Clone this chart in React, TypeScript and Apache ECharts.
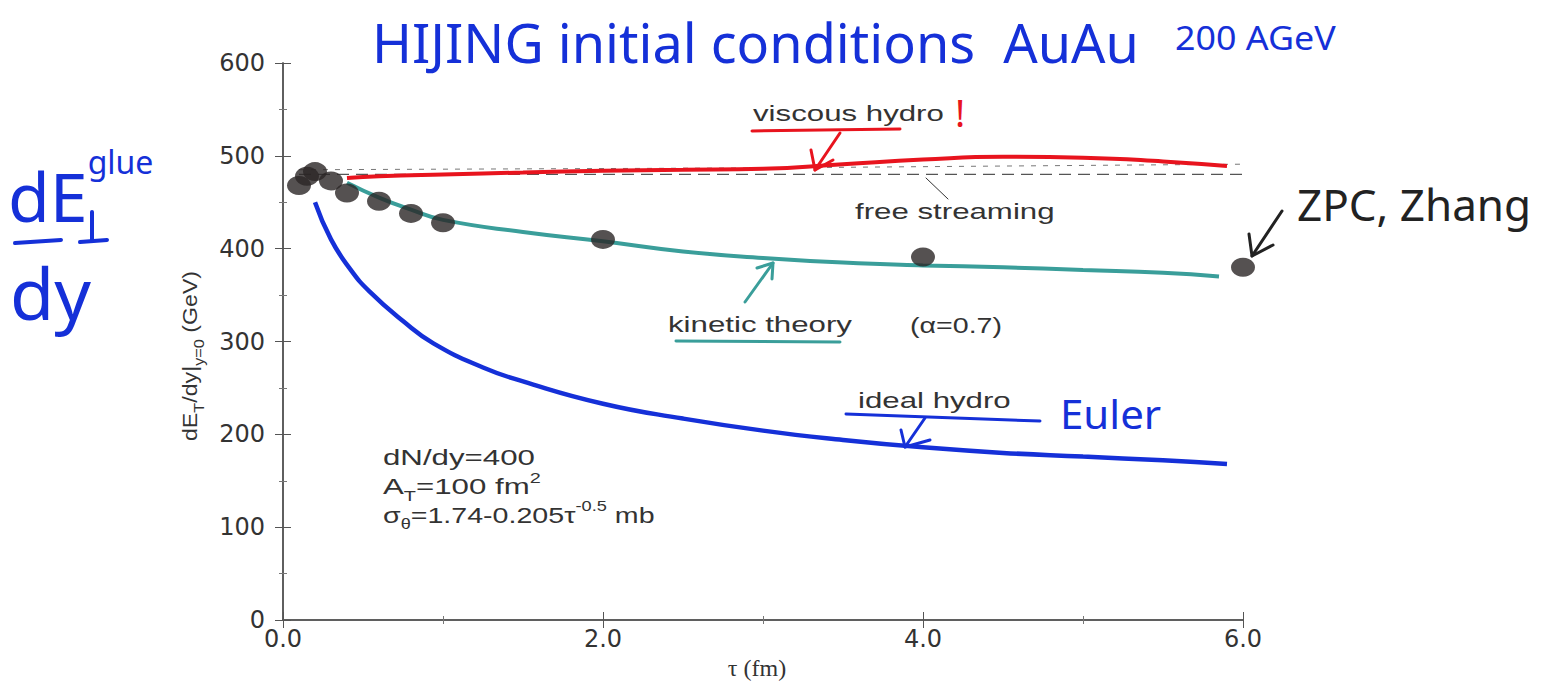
import React, { useEffect, useRef } from "react";
import * as echarts from "echarts";

// ---- data ----
const zpcTau = [0.1, 0.15, 0.2, 0.3, 0.4, 0.6, 0.8, 1.0, 2.0, 4.0, 6.0];
const zpcEt = [468, 478, 483, 473, 460, 451, 438, 428, 410, 391, 380];

const kinTau = [0.4, 0.6, 0.8, 1.0, 1.5, 2.0, 2.5, 3.0, 3.5, 4.0, 4.5, 5.0, 5.5, 5.85];
const kinEt = [471, 455, 442, 431, 418, 408, 397, 390, 385, 382, 380, 377, 374, 370];

const viscTau = [0.4, 0.6, 1.0, 1.5, 2.0, 2.5, 3.0, 3.5, 4.0, 4.5, 5.0, 5.5, 5.9];
const viscEt = [476, 478, 480, 482, 484, 485, 486, 491, 496, 499, 498, 494, 489];

const idealTau = [0.2, 0.3, 0.42, 0.54, 0.75, 0.94, 1.25, 1.5, 2.0, 2.5, 3.0, 3.5, 4.0, 4.5, 5.0, 5.5, 5.9];
const idealEt = [450, 410, 378, 354, 322, 298, 272, 257, 233, 217, 204, 194, 186, 180, 176, 172, 168];

const freeTau = [0.1, 6.0];
const freeEt = [480, 480];

const thinTau = [0.1, 3.0, 6.0];
const thinEt = [485, 487, 491];

const xTicks = { min: 0, max: 6, interval: 2 };
const yTicks = { min: 0, max: 600, interval: 100 };

const zip = (a: number[], b: number[]) => a.map((v, i) => [v, b[i]]);

const SANS = "Liberation Sans";
const HAND = "Noto Sans";
const BLUE = "#1530d8";
const RED = "#e8141e";
const TEAL = "#3a9e9a";
const INK = "#333";
const STRETCH = 1.42;

function line(points: number[][], stroke: string, lineWidth = 3) {
  return {
    type: "polyline",
    shape: { points },
    style: { stroke, lineWidth, fill: null, lineCap: "round", lineJoin: "round" },
    z: 100,
  };
}
function txt(
  text: string,
  x: number,
  y: number,
  fontSize: number,
  fill: string,
  fontFamily = SANS,
  scaleX = 1,
  extra: any = {}
) {
  return {
    type: "text",
    x,
    y,
    scaleX,
    z: 100,
    style: { text, fontSize, fill, fontFamily, textAlign: "left", textVerticalAlign: "middle", ...extra },
  };
}

export default function App() {
  const ref = useRef<HTMLDivElement>(null);
  useEffect(() => {
    const chart = echarts.init(ref.current!, null, { renderer: "svg" });
    const axisLine = { show: true, lineStyle: { color: "#555", width: 1.5 } };
    const tick = { show: true, inside: true, length: 8, lineStyle: { color: "#555" } };
    const minor = { show: true, splitNumber: 2, length: 4, lineStyle: { color: "#777" } };
    const xBase: any = {
      type: "value",
      min: xTicks.min,
      max: xTicks.max,
      interval: xTicks.interval,
      axisLine,
      axisTick: tick,
      minorTick: minor,
      splitLine: { show: false },
    };
    const yBase: any = {
      type: "value",
      min: yTicks.min,
      max: yTicks.max,
      interval: yTicks.interval,
      axisLine,
      axisTick: tick,
      minorTick: minor,
      splitLine: { show: false },
    };
    const sub = { fontSize: 14, fontFamily: SANS, fill: INK, lineHeight: 16, verticalAlign: "bottom" };
    const sup = { fontSize: 14, fontFamily: SANS, fill: INK, lineHeight: 16, verticalAlign: "top" };
    const base20 = { fontSize: 20, fontFamily: SANS, fill: INK, lineHeight: 32, verticalAlign: "middle" };
    const base22 = { fontSize: 22, fontFamily: SANS, fill: INK, lineHeight: 32, verticalAlign: "middle" };
    const tickFont = { fontSize: 24, color: INK, fontFamily: "DejaVu Sans" };

    const option: any = {
      animation: false,
      backgroundColor: "#fff",
      grid: { left: 283, right: 301, top: 63, bottom: 61, containLabel: false, outerBoundsMode: "none" },
      xAxis: [
        {
          ...xBase,
          position: "bottom",
          axisLabel: { ...tickFont, margin: 7, formatter: (v: number) => v.toFixed(1) },
          name: "τ (fm)",
          nameLocation: "middle",
          nameGap: 31,
          nameTextStyle: {
            fontSize: 24,
            lineHeight: 24,
            fontFamily: "Liberation Serif",
            color: INK,
            padding: [0, 12, 0, 0],
          },
        },
        { ...xBase, position: "top", axisLabel: { show: false } },
      ],
      yAxis: [
        { ...yBase, position: "left", axisLabel: { ...tickFont, margin: 18 } },
        { ...yBase, position: "right", axisLabel: { show: false } },
      ],
      series: [
        {
          name: "free streaming",
          type: "line",
          data: zip(freeTau, freeEt),
          showSymbol: false,
          lineStyle: { color: "#555", width: 1.3, type: [12, 7] },
          z: 2,
        },
        {
          name: "hydro (thin dashed)",
          type: "line",
          data: zip(thinTau, thinEt),
          showSymbol: false,
          lineStyle: { color: "#777", width: 1, type: [5, 7] },
          z: 2,
        },
        {
          name: "viscous hydro",
          type: "line",
          smooth: true,
          data: zip(viscTau, viscEt),
          showSymbol: false,
          lineStyle: { color: RED, width: 4 },
          z: 3,
        },
        {
          name: "kinetic theory",
          type: "line",
          smooth: true,
          data: zip(kinTau, kinEt),
          showSymbol: false,
          lineStyle: { color: TEAL, width: 4 },
          z: 3,
        },
        {
          name: "ideal hydro",
          type: "line",
          smooth: true,
          data: zip(idealTau, idealEt),
          showSymbol: false,
          lineStyle: { color: BLUE, width: 4.5 },
          z: 3,
        },
        {
          name: "ZPC",
          type: "scatter",
          data: zip(zpcTau, zpcEt),
          symbol: "circle",
          symbolSize: [24, 19],
          itemStyle: { color: "#2b2626" },
          z: 5,
        },
      ],
      graphic: [
        // y axis name
        {
          type: "text",
          x: 190,
          y: 356,
          rotation: Math.PI / 2,
          scaleX: 1.16,
          z: 100,
          style: {
            text: "{n|dE}{s|T}{n|/dy|}{s|y=0}{n| (GeV)}",
            textAlign: "center",
            textVerticalAlign: "middle",
            rich: { n: base20, s: sub },
          },
        },
        // title (handwritten)
        txt("HIJING initial conditions  AuAu", 372, 42, 54, BLUE, HAND),
        txt("200 AGeV", 1175, 38, 32, BLUE, HAND, 1.12),
        // left handwritten dE^glue / dy
        {
          type: "text",
          x: 8,
          y: 187,
          z: 100,
          style: {
            text: "{a|dE}{b|glue}",
            textAlign: "left",
            textVerticalAlign: "middle",
            rich: {
              a: { fontSize: 68, fontFamily: HAND, fill: BLUE, lineHeight: 84, verticalAlign: "bottom" },
              b: { fontSize: 32, fontFamily: HAND, fill: BLUE, lineHeight: 20, verticalAlign: "top" },
            },
          },
        },
        line([[92, 212], [92, 240]], BLUE, 4),
        line([[80, 242], [107, 240]], BLUE, 4),
        line([[15, 243], [61, 240]], BLUE, 4),
        txt("dy", 10, 292, 72, BLUE, HAND),
        // ZPC annotation
        txt("ZPC, Zhang", 1297, 204, 44, "#222", HAND),
        line([[1282, 211], [1252, 256]], "#222", 3),
        line([[1249, 234], [1252, 256], [1273, 245]], "#222", 3),
        // viscous hydro
        txt("viscous hydro", 753, 114, 22, INK, SANS, STRETCH),
        line([[752, 131], [900, 129]], RED, 3),
        txt("!", 955, 112, 38, RED, HAND),
        line([[840, 133], [815, 170]], RED, 3),
        line([[811, 150], [815, 170], [833, 160]], RED, 3),
        // free streaming
        txt("free streaming", 855, 212, 22, INK, SANS, STRETCH),
        line([[926, 178], [948, 199]], "#333", 1),
        // kinetic theory
        txt("kinetic theory", 668, 325, 22, INK, SANS, STRETCH),
        txt("(α=0.7)", 910, 325, 22, INK, SANS, 1.3),
        line([[676, 341], [840, 342]], TEAL, 3),
        line([[745, 302], [773, 263]], TEAL, 3),
        line([[757, 268], [773, 263], [772, 279]], TEAL, 3),
        // ideal hydro
        txt("ideal hydro", 858, 401, 22, INK, SANS, STRETCH),
        line([[846, 414], [1040, 421]], BLUE, 3),
        line([[925, 418], [905, 447]], BLUE, 3),
        line([[901, 430], [905, 447], [930, 440]], BLUE, 3),
        txt("Euler", 1060, 413, 40, BLUE, HAND, 1.05),
        // parameters
        txt("dN/dy=400", 383, 458, 22, INK, SANS, STRETCH),
        {
          type: "text",
          x: 383,
          y: 487,
          scaleX: STRETCH,
          z: 100,
          style: {
            text: "{n|A}{s|T}{n|=100 fm}{p|2}",
            textAlign: "left",
            textVerticalAlign: "middle",
            rich: { n: base22, s: sub, p: sup },
          },
        },
        {
          type: "text",
          x: 383,
          y: 515,
          scaleX: 1.3,
          z: 100,
          style: {
            text: "{n|σ}{s|θ}{n|=1.74-0.205τ}{p|-0.5}{n| mb}",
            textAlign: "left",
            textVerticalAlign: "middle",
            rich: { n: base22, s: sub, p: sup },
          },
        },
      ],
    };
    chart.setOption(option);
    return () => chart.dispose();
  }, []);
  return (
    <div
      ref={ref}
      style={{ position: "fixed", left: 0, top: 0, width: 1544, height: 681, background: "#fff" }}
    />
  );
}
